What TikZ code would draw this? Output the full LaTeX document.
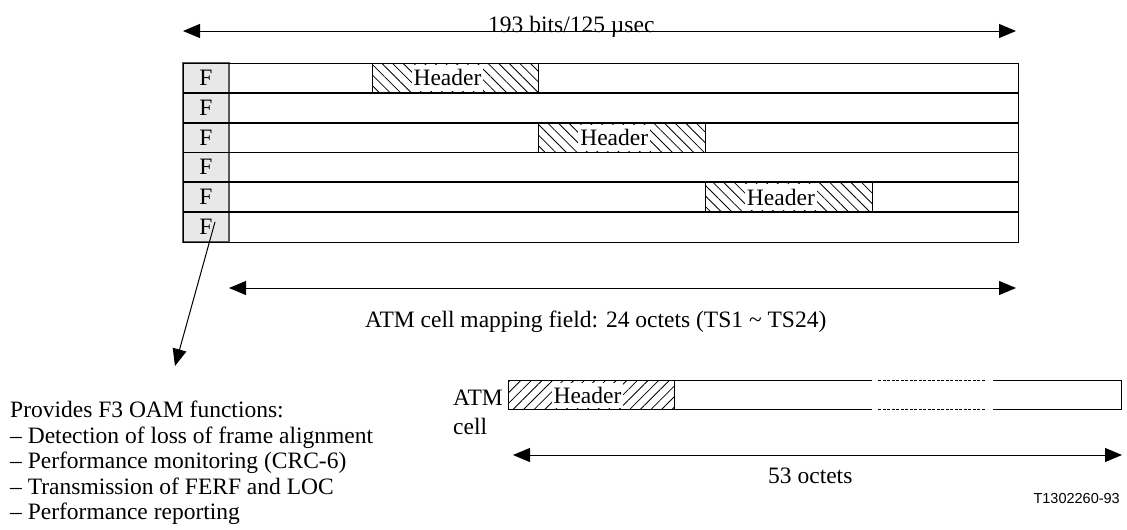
\documentclass[tikz,border=0pt]{standalone}
\usepackage{fontspec}
\setmainfont{Liberation Serif}
\setsansfont{Liberation Sans}
\usetikzlibrary{arrows.meta,patterns.meta}

\begin{document}
\begin{tikzpicture}[x=1pt,y=-1pt,font=\fontsize{23.5}{25.5}\selectfont,
  myarrow/.style={-{Triangle[length=17pt,width=14pt]},line width=1pt},
  dimarrow/.style={{Triangle[length=17pt,width=14pt]}-{Triangle[length=17pt,width=14pt]},line width=1pt},
  fcell/.style={draw=gray!70!black,line width=1.4pt,fill=gray!18,minimum width=46pt,minimum height=29.8pt,inner sep=0pt},
  hatch/.style={draw,line width=1pt,pattern={Lines[angle=#1,distance=7.5pt,line width=0.8pt]},minimum width=166.7pt,minimum height=29.8pt,inner sep=0pt},
  hdrtext/.style={fill=white,inner xsep=2pt,inner ysep=0pt,minimum height=26pt}]
\useasboundingbox (0,0) rectangle (1127,530);

\coordinate (bitsL) at (183,31);
\coordinate (bitsR) at (1016,31);
\draw[dimarrow] (bitsL) -- (bitsR);
\node[anchor=base west,inner sep=0pt] (bits) at (488,32) {193 bits/125 µsec};

\foreach \i in {0,...,5}
  \node[fcell] (f\i) at (206,{77.9+29.8*\i}) {F};
\draw[line width=1pt] (183,63) rectangle (1018,242);
\foreach \i in {1,...,5}
  \draw[line width=1.8pt] (183,{63+29.8*\i}) -- (1018,{63+29.8*\i});
\foreach \k/\x in {0/455.5,2/622.2,4/788.9}{
  \node[hatch=-45] (h\k) at (\x,{77.9+29.8*\k}) {};
  \node[hdrtext] (t\k) at ([xshift=-8pt]h\k.center) {Header};
}

\coordinate (mapL) at (229,288);
\coordinate (mapR) at (1016,288);
\draw[dimarrow] (mapL) -- (mapR);
\node[anchor=base west,inner sep=0pt] (map) at (365,327) {ATM cell mapping field: 24 octets (TS1 \textasciitilde{} TS24)};

\coordinate (oamtip) at (175,366);
\draw[myarrow] ([xshift=9pt,yshift=5pt]f5.center) -- (oamtip);
\node[anchor=north west,align=left,inner sep=0pt] (oam) at (10,401) {Provides F3 OAM functions:\\
  -- Detection of loss of frame alignment\\
  -- Performance monitoring (CRC-6)\\
  -- Transmission of FERF and LOC\\
  -- Performance reporting};

\node[anchor=base west,inner sep=0pt] (atm) at (453,405) {ATM};
\node[anchor=base west,inner sep=0pt] (cell) at (453,434) {cell};
\node[hatch=45,minimum height=28.3pt] (ah) at (591.5,395) {};
\node[hdrtext,minimum height=25pt] (at) at ([xshift=-4pt]ah.center) {Header};
\draw[line width=1.8pt] (ah.north east) -- ++(197,0) (ah.south east) -- ++(197,0);
\draw[line width=1.8pt,dash pattern=on 3pt off 1.5pt] ([xshift=203pt]ah.north east) -- ++(108,0)
  ([xshift=203pt]ah.south east) -- ++(108,0);
\draw[line width=1pt] ([xshift=318pt]ah.north east) -| ([xshift=446pt]ah.south east) -- ([xshift=318pt]ah.south east);

\coordinate (cellL) at (513,455);
\coordinate (cellR) at (1122,455);
\draw[dimarrow] (cellL) -- (cellR);
\node[anchor=base west,inner sep=0pt] (octets) at (768,483) {53 octets};
\node[anchor=base east,inner sep=0pt,font=\sffamily\fontsize{14.5}{16}\selectfont] (tag) at (1120,503) {T1302260-93};
\end{tikzpicture}
\end{document}
